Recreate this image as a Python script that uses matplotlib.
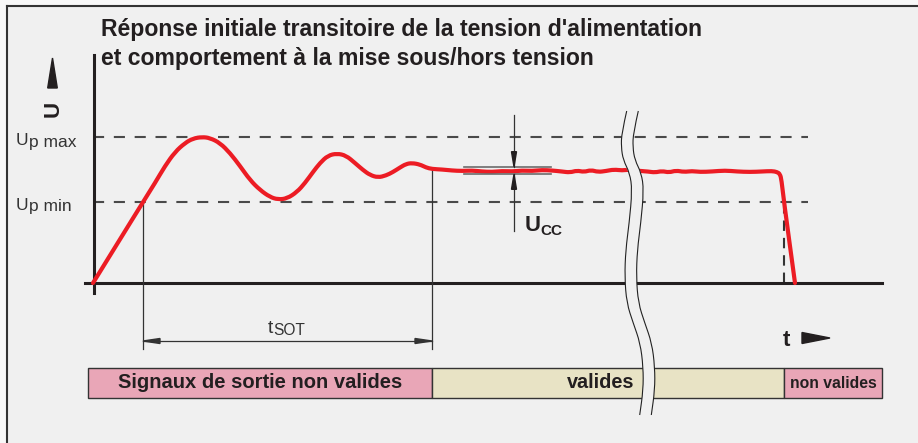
import matplotlib
matplotlib.use("Agg")
import matplotlib.pyplot as plt
from matplotlib.path import Path
from matplotlib.patches import PathPatch, Polygon, Rectangle

plt.rcParams["font.family"] = ["Liberation Sans", "DejaVu Sans"]
plt.rcParams["lines.scale_dashes"] = False

# ---- supply voltage over time (arbitrary units) ----
t_curve = [0.0, 5.0, 6.2, 7.2, 8.2, 9.2, 10.0, 10.9, 11.7, 12.7, 13.7, 14.7, 15.7,
           16.7, 17.7, 18.5, 19.4, 20.4, 21.2, 22.0, 22.7, 23.5, 24.4, 25.3, 26.2,
           27.0, 27.7, 28.5, 29.3, 30.0, 30.7, 31.3, 31.9, 32.7, 33.3, 33.9,
           34.9, 35.9, 36.9, 37.9, 38.9, 39.9, 40.9, 41.9, 42.9, 43.9, 44.9, 45.9,
           46.9, 47.7, 48.4, 49.1, 49.8, 50.5, 51.3, 52.1, 52.9, 53.7, 54.7, 55.5,
           56.2, 56.9, 57.6, 58.3, 59.1, 59.9, 60.7, 61.9, 63.2, 64.4, 65.7, 66.9,
           67.9, 68.4, 68.7, 68.85, 69.1, 70.2]
u_curve = [0.0, 8.1, 10.0, 11.7, 13.1, 14.0, 14.45, 14.6, 14.5, 14.0, 13.0, 11.7, 10.3,
           9.3, 8.6, 8.35, 8.45, 9.1, 10.0, 11.1, 12.0, 12.75, 12.95, 12.75, 12.0,
           11.3, 10.8, 10.55, 10.75, 11.1, 11.55, 11.9, 12.0, 11.85, 11.55, 11.4,
           11.35, 11.25, 11.2, 11.25, 11.15, 11.1, 11.2, 11.15, 11.25, 11.2, 11.3, 11.25,
           11.15, 11.05, 11.25, 11.1, 11.3, 11.1, 11.2, 11.35, 11.25, 11.35, 11.2, 11.15,
           11.05, 11.2, 11.05, 11.25, 11.1, 11.2, 11.1, 11.15, 11.25, 11.15, 11.1, 11.15,
           11.2, 11.1, 10.9, 10.3, 8.1, 0.0]

UP_MIN = 8.1
UP_MAX = 14.6
T_SOT_START = 5.0
T_SOT_END = 33.9
T_OFF = 69.1
T_AXIS_END = 78.9
UCC_HIGH = 11.63
UCC_LOW = 10.87
T_UCC = 42.1

band_labels = ["Signaux de sortie non valides", "valides", "non valides"]
band_edges = [-0.5, T_SOT_END, T_OFF, T_AXIS_END]
band_colors = ["#e9a6b7", "#e8e3c5", "#e9a6b7"]

# axis-break symbol centre line (t, U)
break_t = [53.95, 53.45, 53.4, 53.6, 54.25, 54.5, 54.2, 53.85, 53.75, 53.95,
           54.6, 55.3, 55.6, 55.6, 55.25]
break_u = [17.2, 15.0, 13.6, 12.3, 11.0, 9.3, 6.0, 3.3, 0.6, -2.0,
           -4.0, -6.0, -8.4, -10.7, -13.2]

BG = "#f0f0f0"
INK = "#231f20"
RED = "#ec1c24"


def smooth_path(ts, us):
    """Quadratic-Bezier path through the midpoints of consecutive points."""
    pts = list(zip(ts, us))
    verts = [pts[0]]
    codes = [Path.MOVETO]
    for i in range(1, len(pts) - 1):
        mid = ((pts[i][0] + pts[i + 1][0]) / 2, (pts[i][1] + pts[i + 1][1]) / 2)
        verts += [pts[i], mid]
        codes += [Path.CURVE3, Path.CURVE3]
    verts.append(pts[-1])
    codes.append(Path.LINETO)
    return Path(verts, codes)


fig = plt.figure(figsize=(9.18, 4.43), dpi=100, facecolor="#f8f8f8")
ax = fig.add_axes([0, 0, 1, 1])
ax.set_xlim(-9.3, 82.5)
ax.set_ylim(-16.0, 28.3)
ax.axis("off")

# panel with left/top frame
ax.add_patch(Rectangle((-8.65, -17), 95, 44.7, facecolor=BG, edgecolor="none", zorder=0))
ax.plot([-8.65, -8.65], [-17, 27.7], color="#333333", lw=1.5, zorder=1,
        solid_capstyle="projecting")
ax.plot([-8.65, 90], [27.7, 27.7], color="#333333", lw=1.5, zorder=1,
        solid_capstyle="projecting")

# limit levels
for lev in (UP_MAX, UP_MIN):
    ax.plot([0, 71.5], [lev, lev], color="#4a4a4a", lw=1.5,
            linestyle=(0, (8.0, 7.0)), zorder=2)
ax.plot([T_OFF, T_OFF], [0, UP_MIN], color="#333333", lw=1.5,
        linestyle=(0, (7.5, 5.0)), zorder=2)

# axes
ax.plot([0.1, 0.1], [-1.0, 22.8], color=INK, lw=2.2, zorder=3)
ax.plot([-0.8, T_AXIS_END], [0, 0], color=INK, lw=2.2, zorder=3)

# t_SOT dimension
ax.plot([T_SOT_START, T_SOT_START], [UP_MIN, -6.6], color="#333333", lw=0.9, zorder=3)
ax.plot([T_SOT_END, T_SOT_END], [u_curve[t_curve.index(T_SOT_END)], -6.6],
        color="#333333", lw=0.9, zorder=3)
ax.plot([T_SOT_START, T_SOT_END], [-5.8, -5.8], color="#333333", lw=0.9, zorder=3)
ax.add_patch(Polygon([(T_SOT_START, -5.8), (T_SOT_START + 1.7, -5.55),
                      (T_SOT_START + 1.7, -6.05)], closed=True, color="#333333", zorder=3))
ax.add_patch(Polygon([(T_SOT_END, -5.8), (T_SOT_END - 1.7, -5.55),
                      (T_SOT_END - 1.7, -6.05)], closed=True, color="#333333", zorder=3))

# supply voltage curve
ax.add_patch(PathPatch(smooth_path(t_curve, u_curve), fill=False, edgecolor=RED,
                       lw=3.0, joinstyle="round", capstyle="round", zorder=4))

# ripple U_CC
for lev in (UCC_HIGH, UCC_LOW):
    ax.plot([37.1, 45.8], [lev, lev], color="#6b6b6b", lw=1.2, zorder=5)
ax.plot([T_UCC, T_UCC], [16.8, UCC_HIGH], color="#333333", lw=0.9, zorder=5)
ax.plot([T_UCC, T_UCC], [UCC_LOW, 5.2], color="#333333", lw=0.9, zorder=5)
ax.add_patch(Polygon([(T_UCC, UCC_HIGH), (T_UCC - 0.25, UCC_HIGH + 1.5),
                      (T_UCC + 0.25, UCC_HIGH + 1.5)], closed=True, color=INK, zorder=5))
ax.add_patch(Polygon([(T_UCC, UCC_LOW), (T_UCC - 0.25, UCC_LOW - 1.5),
                      (T_UCC + 0.25, UCC_LOW - 1.5)], closed=True, color=INK, zorder=5))

# validity band
for i, (lab, col) in enumerate(zip(band_labels, band_colors)):
    x0, x1 = band_edges[i], band_edges[i + 1]
    ax.add_patch(Rectangle((x0, -11.5), x1 - x0, 3.0, facecolor=col,
                           edgecolor="#333333", lw=1.0, zorder=3))
ax.text((band_edges[0] + band_edges[1]) / 2, -10.0, band_labels[0], fontsize=14.5,
        fontweight="bold", color=INK, ha="center", va="center", zorder=7)
ax.text(50.8, -10.0, band_labels[1], fontsize=14.3, fontweight="bold", color=INK,
        ha="center", va="center", zorder=7)
ax.text((band_edges[2] + band_edges[3]) / 2, -10.0, band_labels[2], fontsize=11.3,
        fontweight="bold", color=INK, ha="center", va="center", zorder=7)

# axis break: two wavy lines with the background between them
ax.add_patch(PathPatch(smooth_path(break_t, break_u), fill=False, edgecolor=BG,
                       lw=8.4, capstyle="butt", zorder=6))
for off in (-0.58, 0.58):
    ax.add_patch(PathPatch(smooth_path([v + off for v in break_t], break_u), fill=False,
                           edgecolor="#222222", lw=0.8, zorder=6))

# axis labels and arrows
ax.text(-3.95, 17.4, "U", rotation=90, fontsize=16, fontweight="bold", color=INK,
        ha="center", va="center")
ax.add_patch(Polygon([(-4.05, 22.5), (-4.53, 19.5), (-3.57, 19.5)], closed=True,
                     color=INK))
ax.text(69.0, -6.3, "t", fontsize=16, fontweight="bold", color=INK, ha="left",
        va="baseline")
ax.add_patch(Polygon([(73.7, -5.5), (70.9, -4.95), (70.9, -6.05)], closed=True, color=INK))

for lev, sub in ((UP_MAX, "p max"), (UP_MIN, "p min")):
    ax.text(-7.7, lev - 0.8, "U", fontsize=12.5, color="#333333", ha="left",
            va="baseline")
    ax.text(-6.4, lev - 0.95, sub, fontsize=12.5, color="#333333", ha="left",
            va="baseline")

ax.text(17.5, -5.0, "t", fontsize=14, color="#333333", ha="left", va="baseline")
ax.text(18.0, -5.2, "SOT", fontsize=11.2, color="#333333", ha="left", va="baseline")

ax.text(43.2, 5.2, "U", fontsize=15.8, fontweight="bold", color=INK, ha="left",
        va="baseline")
ax.text(44.75, 4.8, "CC", fontsize=11, fontweight="bold", color=INK, ha="left",
        va="baseline")

# title
ax.text(0.8, 24.7, "Réponse initiale transitoire de la tension d'alimentation",
        fontsize=16.6, fontweight="bold", color=INK, ha="left", va="baseline")
ax.text(0.8, 21.85, "et comportement à la mise sous/hors tension",
        fontsize=16.6, fontweight="bold", color=INK, ha="left", va="baseline")

fig.savefig("out.png", dpi=100, facecolor=fig.get_facecolor())
